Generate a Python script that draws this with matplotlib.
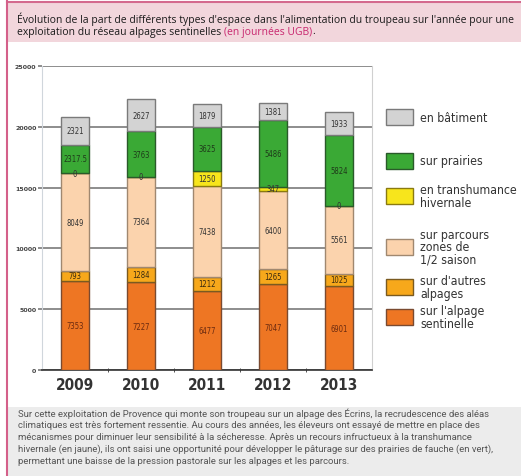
import matplotlib
matplotlib.use("Agg")
import matplotlib.pyplot as plt
from matplotlib.patches import Rectangle
from matplotlib import font_manager
import numpy as np

years = ["2009", "2010", "2011", "2012", "2013"]
series_names = ["sur l'alpage\nsentinelle", "sur d'autres\nalpages", "sur parcours\nzones de\n1/2 saison",
                "en transhumance\nhivernale", "sur prairies", "en bâtiment"]
sentinelle = [7353, 7227, 6477, 7047, 6901]
autres_alpages = [793, 1284, 1212, 1265, 1025]
parcours = [8049, 7364, 7438, 6400, 5561]
transhumance = [0, 0, 1250, 347, 0]
prairies = [2317.5, 3763, 3625, 5486, 5824]
batiment = [2321, 2627, 1879, 1381, 1933]
labels_text = [
    ["7353", "7227", "6477", "7047", "6901"],
    ["793", "1284", "1212", "1265", "1025"],
    ["8049", "7364", "7438", "6400", "5561"],
    ["0", "0", "1250", "347", "0"],
    ["2317.5", "3763", "3625", "5486", "5824"],
    ["2321", "2627", "1879", "1381", "1933"],
]
yticks = [0, 5000, 10000, 15000, 20000, 25000]

title_l1 = "Évolution de la part de différents types d'espace dans l'alimentation du troupeau sur l'année pour une"
title_l2a = "exploitation du réseau alpages sentinelles "
title_l2b = "(en journées UGB)"
title_l2c = "."
caption = [
    "Sur cette exploitation de Provence qui monte son troupeau sur un alpage des Écrins, la recrudescence des aléas",
    "climatiques est très fortement ressentie. Au cours des années, les éleveurs ont essayé de mettre en place des",
    "mécanismes pour diminuer leur sensibilité à la sécheresse. Après un recours infructueux à la transhumance",
    "hivernale (en jaune), ils ont saisi une opportunité pour développer le pâturage sur des prairies de fauche (en vert),",
    "permettant une baisse de la pression pastorale sur les alpages et les parcours.",
]

colors = ["#ee7623", "#f7a81b", "#fbd3ad", "#f7e51c", "#3aa935", "#d3d3d3"]
edges = ["#7a4a30", "#7a5a20", "#a08870", "#8a7a10", "#2a5a2a", "#7a7a7a"]
txtcol = ["#6a2a10", "#3a2a10", "#333333", "#333333", "#1f3a1a", "#333333"]

avail = {f.name for f in font_manager.fontManager.ttflist}
narrow = "Liberation Sans Narrow" if "Liberation Sans Narrow" in avail else "DejaVu Sans"

W, H = 521, 477
fig = plt.figure(figsize=(W / 100, H / 100), dpi=100)

def fx(px):
    return px / W

def fy(py):
    return 1 - py / H

# header band
fig.patches.append(Rectangle((fx(7), fy(43)), 1 - fx(7), fy(2) - fy(43), transform=fig.transFigure,
                             facecolor="#f2d6dc", edgecolor="none", zorder=0))
fig.add_artist(plt.Line2D([fx(7), 1], [fy(2.5), fy(2.5)], color="#d46a8e", lw=1.5, transform=fig.transFigure))
# caption band
fig.patches.append(Rectangle((fx(8), 0), 1 - fx(8), fy(408), transform=fig.transFigure,
                             facecolor="#ececec", edgecolor="none", zorder=0))
# left pink border
fig.add_artist(plt.Line2D([fx(7), fx(7)], [0, fy(2)], color="#d4608a", lw=1.5, transform=fig.transFigure))

tfont = "Open Sans"
tsize = 7.45
fig.text(fx(17), fy(19), title_l1, fontsize=tsize, family=tfont, color="#1a1a1a", va="center", ha="left")
t2 = fig.text(fx(17), fy(32), title_l2a, fontsize=tsize, family=tfont, color="#1a1a1a", va="center", ha="left")
fig.canvas.draw()
r = fig.canvas.get_renderer()
bb = t2.get_window_extent(r)
t3 = fig.text(bb.x1 / W, fy(32), title_l2b, fontsize=tsize, family=tfont, color="#c8266e", va="center", ha="left")
bb3 = t3.get_window_extent(r)
fig.text(bb3.x1 / W, fy(32), title_l2c, fontsize=tsize, family=tfont, color="#1a1a1a", va="center", ha="left")

for i, line in enumerate(caption):
    fig.text(fx(18), fy(414 + i * 11.8), line, fontsize=6.8, family="Roboto", color="#555555",
             va="center", ha="left")

# chart axes
ax = fig.add_axes([fx(42), fy(371), fx(372) - fx(42), fy(67) - fy(371)])
x = np.arange(len(years))
data = [sentinelle, autres_alpages, parcours, transhumance, prairies, batiment]
bottom = np.zeros(len(years))
for k, vals in enumerate(data):
    vals = np.array(vals, dtype=float)
    ax.bar(x, vals, 0.42, bottom=bottom, color=colors[k], edgecolor=edges[k], linewidth=1.0, zorder=3)
    for j in range(len(years)):
        ax.text(x[j], bottom[j] + vals[j] / 2, labels_text[k][j], ha="center", va="center",
                fontsize=5.5, color=txtcol[k], zorder=4, family=narrow, fontstretch="condensed")
    bottom += vals

ax.set_xlim(-0.5, len(years) - 0.5)
ax.set_ylim(0, 25000)
ax.set_yticks(yticks)
ax.set_yticklabels([str(v) for v in yticks], fontsize=4.5, color="#444444", fontweight="bold")
ax.yaxis.grid(True, color="#7a7a7a", lw=1.2, zorder=1)
ax.set_axisbelow(True)
ax.tick_params(axis="y", length=3, color="#7a7a7a", width=1.2, pad=1)
ax.set_xticks(x)
ax.set_xticklabels(years, fontsize=11, fontweight="bold", color="#333333", family=narrow, fontstretch="condensed")
ax.tick_params(axis="x", length=0, pad=5)
ax.set_xticks(np.arange(0.5, len(years) - 0.5, 1), minor=True)
ax.tick_params(axis="x", which="minor", length=3, direction="inout", color="#333333")
ax.spines["top"].set_visible(False)
ax.spines["left"].set_color("#d0d6dc")
ax.spines["right"].set_color("#d0d0d0")
ax.spines["bottom"].set_color("#333333")
ax.spines["bottom"].set_linewidth(1.2)
ax.patch.set_alpha(0)

# legend
leg_y = [318, 288, 248, 197, 162, 118]
for k in range(len(series_names)):
    cy = leg_y[k]
    fig.patches.append(Rectangle((fx(386), fy(cy + 8)), fx(27), fy(cy - 8) - fy(cy + 8),
                                 transform=fig.transFigure, facecolor=colors[k], edgecolor=edges[k], lw=1.0))
    fig.text(fx(420), fy(cy), series_names[k], fontsize=8.8, family=narrow, color="#333333",
             va="center", ha="left", linespacing=0.95, fontstretch="condensed")

fig.savefig("out.png", dpi=100)
